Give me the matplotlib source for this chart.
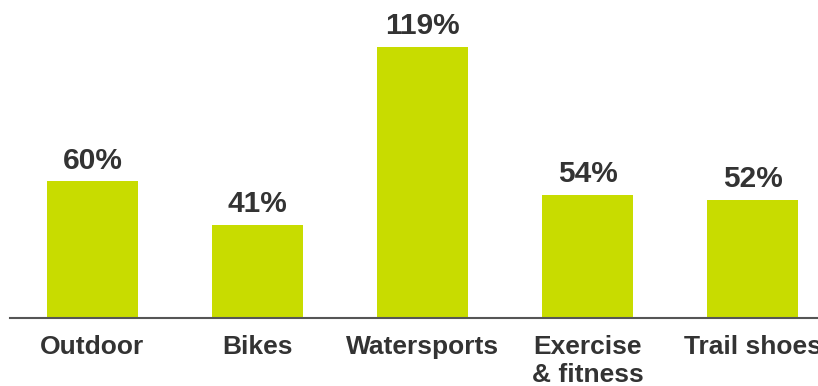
import matplotlib.pyplot as plt
import numpy as np

categories = ['Outdoor', 'Bikes', 'Watersports', 'Exercise\n& fitness', 'Trail shoes']
growth = [60, 41, 119, 54, 52]

BAR_COLOR = '#c8dc00'
TEXT_COLOR = '#333333'

plt.rcParams['font.family'] = ['Liberation Sans', 'DejaVu Sans']

fig = plt.figure(figsize=(8.18, 3.86), dpi=100)
ax = fig.add_axes([10 / 818, 68 / 386, 808 / 818, 318 / 386])

x = np.arange(len(categories))
bars = ax.bar(x, growth, width=0.557, color=BAR_COLOR, zorder=2)

for rect, v in zip(bars, growth):
    ax.annotate(f'{v}%', (rect.get_x() + rect.get_width() / 2, rect.get_height()),
                xytext=(0, 9), textcoords='offset points', ha='center', va='baseline',
                fontsize=21.5, fontweight='bold', color=TEXT_COLOR)

ax.set_xlim(-0.5, 4.397)
ax.set_ylim(0, 139.6)
ax.set_xticks(x)
ax.set_xticklabels(categories, fontsize=19, fontweight='bold', color=TEXT_COLOR,
                   linespacing=1.25)
ax.tick_params(axis='x', length=0, pad=12)
ax.set_yticks([])
for s in ['top', 'right', 'left']:
    ax.spines[s].set_visible(False)
ax.spines['bottom'].set_color('#555555')
ax.spines['bottom'].set_linewidth(1.5)
ax.spines['bottom'].set_zorder(3)

fig.savefig('out.png', dpi=100)
